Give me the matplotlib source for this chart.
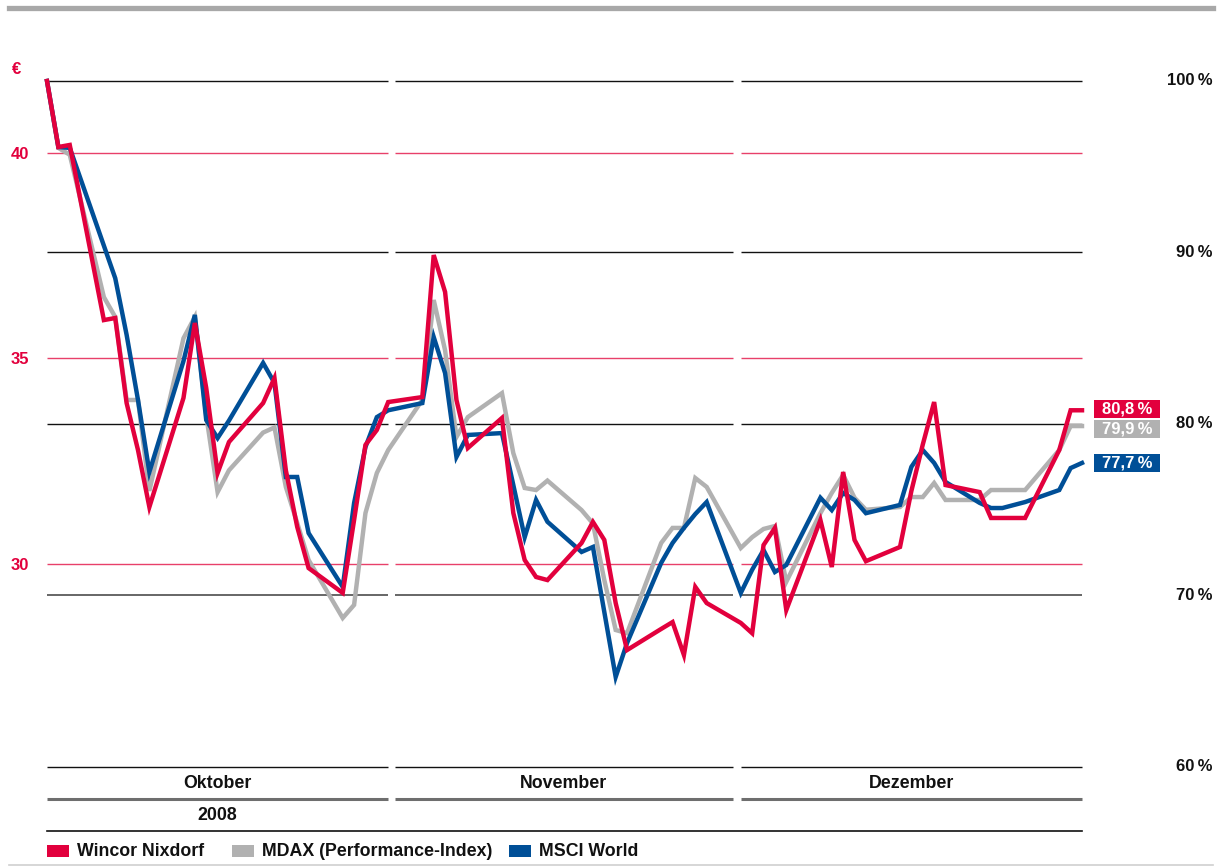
import numpy as np
import matplotlib
matplotlib.use("Agg")
import matplotlib.pyplot as plt
from matplotlib import font_manager as fm
from matplotlib.patches import Rectangle

# ---------------- data ----------------
dates_oct = [1, 2, 3, 6, 7, 8, 9, 10, 13, 14, 15, 16, 17, 20, 21, 22, 23, 24, 27, 28, 29, 30, 31]
dates_nov = [3, 4, 5, 6, 7, 10, 11, 12, 13, 14, 17, 18, 19, 20, 21, 24, 25, 26, 27, 28]
dates_dec = [1, 2, 3, 4, 5, 8, 9, 10, 11, 12, 15, 16, 17, 18, 19, 22, 23, 24, 26, 29, 30, 31]

wincor = [100, 96.15, 96.27, 86.06, 86.18, 81.22, 78.48, 75.16, 81.52, 85.89, 82.1, 77.14, 78.95,
          81.22, 82.68, 77.3, 74.0, 71.6, 70.15, 74.4, 78.78, 79.65, 81.28,
          81.57, 89.85, 87.7, 81.4, 78.6, 80.35, 74.81, 72.07, 71.08, 70.9, 73.06, 74.29, 73.24,
          69.56, 66.82, 68.05, 68.45, 66.53, 70.5, 69.56,
          68.4, 67.8, 72.94, 73.94, 69.15, 74.4, 71.66, 77.2, 73.24, 72.0, 72.83, 76.1, 78.8,
          81.28, 76.44, 76.03, 74.52, 74.52, 74.52, 78.48, 80.8, 80.8]
mdax = [100, 96.1, 95.7, 87.4, 86.24, 81.4, 81.4, 76.1, 85.0, 86.24, 80.5, 76.03, 77.3,
        79.5, 79.8, 76.33, 74.23, 72.07, 68.69, 69.45, 74.81, 77.14, 78.48,
        81.4, 87.23, 84.3, 79.24, 80.4, 81.8, 78.3, 76.27, 76.15, 76.7, 74.98, 74.2, 70.9,
        67.99, 67.8, 73.06, 73.94, 73.94, 76.85, 76.33,
        72.77, 73.4, 73.88, 74.05, 70.8, 74.8, 75.98, 77.03, 75.7, 75.0, 75.16, 75.74, 75.74,
        76.56, 75.57, 75.57, 76.15, 76.15, 76.15, 78.48, 79.88, 79.88]
msci = [100, 96.15, 96.1, 90.4, 88.5, 85.2, 81.4, 77.2, 83.67, 86.36, 80.23, 79.18, 80.2,
        83.56, 82.39, 76.91, 76.91, 73.64, 70.5, 75.39, 78.66, 80.4, 80.8,
        81.22, 85.07, 82.97, 78.08, 79.36, 79.47, 76.44, 73.4, 75.57, 74.3, 72.54, 72.83, 69.04,
        65.25, 67.23, 71.9, 73.06, 73.94, 74.75, 75.45,
        70.15, 71.5, 72.65, 71.37, 71.78, 75.7, 74.98, 75.98, 75.57, 74.8, 75.28, 77.5, 78.48,
        77.73, 76.62, 75.4, 75.1, 75.1, 75.45, 76.15, 77.43, 77.73]

base_price_eur = 41.75          # Wincor Nixdorf share price at 100 %
eur_ticks = [30, 35, 40]
pct_ticks = [100, 90, 80, 70, 60]
months = ["Oktober", "November", "Dezember"]
year_label = "2008"
end_labels = ["80,8\u2009%", "79,9\u2009%", "77,7\u2009%"]
series_names = ["Wincor Nixdorf", "MDAX (Performance-Index)", "MSCI World"]

# ---------------- style ----------------
def pick(names):
    for n in names:
        try:
            fm.findfont(fm.FontProperties(family=n), fallback_to_default=False)
            return n
        except Exception:
            pass
    return "DejaVu Sans"

FONT = pick(["Liberation Sans", "Arial", "DejaVu Sans"])
plt.rcParams["font.family"] = [FONT, "DejaVu Sans"]
plt.rcParams["font.weight"] = "bold"

RED = "#e2003d"
GRAY = "#b1b1b1"
BLUE = "#004f97"
GRID_RED = "#e8406a"
FS = 12.8
FS_AX = 12

# x positions = calendar days since 1 Oct 2008
start = np.datetime64("2008-10-01")
def days(month, dl):
    return [int((np.datetime64(f"2008-{month:02d}-{d:02d}") - start).astype(int)) for d in dl]
x = np.array(days(10, dates_oct) + days(11, dates_nov) + days(12, dates_dec))

W, H = 1230, 867
fig = plt.figure(figsize=(W / 100, H / 100), dpi=100)
L, R, T, B = 47, 1082, 81, 767
ax = fig.add_axes([L / W, 1 - B / H, (R - L) / W, (B - T) / H])
ax.set_xlim(0, 91)
ax.set_ylim(60, 100)
for s in ax.spines.values():
    s.set_visible(False)
ax.set_xticks([])
ax.set_yticks([])

segments = [(0.0, 30.0), (30.6, 60.3), (61.0, 91.0)]

def seg_hline(y, color, lw):
    for a, b in segments:
        ax.plot([a, b], [y, y], color=color, lw=lw, solid_capstyle="butt", clip_on=False, zorder=1)

# black % gridlines
for p in pct_ticks:
    col = "#5a5a5a" if p == 70 else "#111111"
    seg_hline(p, col, 1.3 if p == 70 else 1.0)
# red € gridlines
for e in eur_ticks:
    seg_hline(e / base_price_eur * 100, GRID_RED, 1.0)

# series
LW = 3.2
ax.plot(x, mdax, color=GRAY, lw=LW, zorder=3, clip_on=False, solid_joinstyle="miter")
ax.plot(x, msci, color=BLUE, lw=LW, zorder=4, clip_on=False, solid_joinstyle="miter")
ax.plot(x, wincor, color=RED, lw=LW, zorder=5, clip_on=False, solid_joinstyle="miter")

# € axis on the left
sec = ax.secondary_yaxis("left", functions=(lambda p: p * base_price_eur / 100,
                                             lambda e: e * 100 / base_price_eur))
sec.set_yticks(eur_ticks)
sec.set_yticklabels([str(v) for v in eur_ticks])
sec.tick_params(length=0, pad=13, labelcolor=RED, labelsize=FS_AX)
for lab in sec.get_yticklabels():
    lab.set_fontweight("bold")
sec.spines["left"].set_visible(False)
fig.text(17 / W, 1 - 70 / H, "\u20ac", color=RED, fontsize=FS_AX, fontweight="bold",
         ha="center", va="center", family=[FONT, "DejaVu Sans"])

# % labels on the right
ytr = ax.get_yaxis_transform()
xr = (1213 - L) / (R - L)
for p in pct_ticks:
    ax.text(xr, p, f"{p}\u2009%", transform=ytr, ha="right", va="center",
            fontsize=FS_AX, fontweight="bold", color="#111111")

# end-value boxes
bx0 = (1094 - L) / (R - L)
bw = 66 / (R - L)
bh = 18 / 17.15
box_centers = [wincor[-1] + 0.07, mdax[-1] - 0.2, msci[-1] + 0.02]
for lab, col, yc in zip(end_labels, [RED, GRAY, BLUE], box_centers):
    ax.add_patch(Rectangle((bx0, yc - bh / 2), bw, bh, transform=ytr, facecolor=col,
                           edgecolor="none", clip_on=False))
    ax.text(bx0 + bw / 2, yc, lab, transform=ytr, ha="center", va="center", color="white",
            fontsize=FS_AX, fontweight="bold")

# bottom month band
xtr = ax.get_xaxis_transform()
def yax(px):
    return (B - px) / (B - T)

for a, b in segments:
    ax.plot([a, b], [yax(799)] * 2, color="#6e6e6e", lw=2.2, transform=xtr, clip_on=False,
            solid_capstyle="butt")
ax.plot([0, 91], [yax(831)] * 2, color="#111111", lw=1.2, transform=xtr, clip_on=False)
for (a, b), m in zip(segments, months):
    ax.text((a + b) / 2, yax(783), m, transform=xtr, ha="center", va="center",
            fontsize=FS, fontweight="bold", color="#111111")
ax.text(sum(segments[0]) / 2, yax(815), year_label, transform=xtr, ha="center", va="center",
        fontsize=FS, fontweight="bold", color="#111111")

# legend
leg_y = 1 - 851 / H
items = [(47, 77, RED), (232, 262, GRAY), (509, 539, BLUE)]
for (sx, tx, col), name in zip(items, series_names):
    fig.patches.append(Rectangle((sx / W, 1 - 857 / H), 22 / W, 12 / H, transform=fig.transFigure,
                                 facecolor=col, edgecolor="none"))
    fig.text(tx / W, leg_y, name, ha="left", va="center", fontsize=FS, fontweight="bold",
             color="#111111")

# top and bottom rules
fig.add_artist(plt.Line2D([9 / W, 1213 / W], [1 - 7.5 / H] * 2, color="#a8a8a8", lw=3.8,
                          transform=fig.transFigure))
fig.add_artist(plt.Line2D([9 / W, 1213 / W], [1 - 865 / H] * 2, color="#cfcfcf", lw=1.2,
                          transform=fig.transFigure))

fig.savefig("out.png", dpi=100, facecolor="white")
